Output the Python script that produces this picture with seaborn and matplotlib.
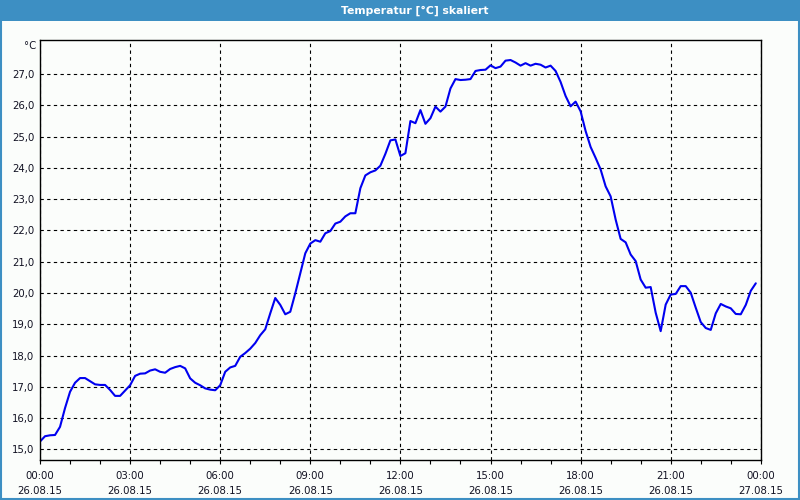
import numpy as np
import pandas as pd
import matplotlib
matplotlib.use("Agg")
import matplotlib.pyplot as plt
import matplotlib.dates as mdates
from matplotlib.patches import Rectangle
from matplotlib.ticker import FuncFormatter
import seaborn as sns

# ---- data (10-minute samples, 26.08.15 00:00 onward) ----
temps = [
    15.25, 15.42, 15.45, 15.46, 15.72, 16.32, 16.84, 17.13, 17.28, 17.28,
    17.18, 17.08, 17.06, 17.06, 16.90, 16.71, 16.71, 16.88, 17.05, 17.35,
    17.42, 17.43, 17.52, 17.56, 17.48, 17.45, 17.57, 17.63, 17.67, 17.59,
    17.27, 17.13, 17.05, 16.95, 16.91, 16.89, 17.05, 17.48, 17.62, 17.67,
    17.96, 18.08, 18.22, 18.40, 18.65, 18.84, 19.35, 19.84, 19.62, 19.32,
    19.40, 19.99, 20.63, 21.27, 21.58, 21.69, 21.64, 21.91, 21.98, 22.22,
    22.28, 22.45, 22.55, 22.55, 23.35, 23.76, 23.86, 23.92, 24.07, 24.45,
    24.88, 24.91, 24.38, 24.47, 25.50, 25.43, 25.85, 25.41, 25.59, 25.96,
    25.80, 25.96, 26.54, 26.84, 26.81, 26.82, 26.84, 27.10, 27.13, 27.14,
    27.28, 27.19, 27.24, 27.43, 27.45, 27.37, 27.27, 27.35, 27.27, 27.33,
    27.30, 27.21, 27.27, 27.10, 26.75, 26.30, 25.97, 26.12, 25.81, 25.18,
    24.67, 24.32, 23.95, 23.41, 23.09, 22.35, 21.73, 21.62, 21.23, 21.02,
    20.43, 20.17, 20.19, 19.37, 18.78, 19.63, 19.95, 19.97, 20.22, 20.22,
    20.01, 19.53, 19.07, 18.88, 18.82, 19.35, 19.65, 19.57, 19.51, 19.33,
    19.32, 19.62, 20.07, 20.31,
]
start_time = "2015-08-26 00:00"
end_time = "2015-08-27 00:00"
y_ticks = [15.0, 16.0, 17.0, 18.0, 19.0, 20.0, 21.0, 22.0, 23.0, 24.0, 25.0, 26.0, 27.0]
x_tick_labels = [
    "00:00\n26.08.15", "03:00\n26.08.15", "06:00\n26.08.15", "09:00\n26.08.15",
    "12:00\n26.08.15", "15:00\n26.08.15", "18:00\n26.08.15", "21:00\n26.08.15",
    "00:00\n27.08.15",
]
title = "Temperatur [°C] skaliert"
unit_label = "°C"

times = pd.date_range(start_time, periods=len(temps), freq="10min")
df = pd.DataFrame({"time": times, "temp": temps})

sns.set_theme(style="white")
plt.rcParams["font.family"] = ["DejaVu Sans"]

bg = "#fbfdfb"
bar_col = "#3d8fc3"
txt_col = "#111122"

fig = plt.figure(figsize=(8, 5), dpi=100, facecolor=bg)
ax = fig.add_axes([0.05, 0.08, 0.901, 0.84])
ax.set_facecolor(bg)

sns.lineplot(data=df, x="time", y="temp", ax=ax, color="#0000f0", linewidth=1.5)

ax.set_xlim(pd.Timestamp(start_time), pd.Timestamp(end_time))
ax.set_ylim(14.66, 28.09)

major = pd.date_range(start_time, end_time, freq="3h")
ax.set_xticks(major)
ax.set_xticklabels(x_tick_labels)
ax.xaxis.set_minor_locator(mdates.HourLocator())
ax.set_yticks(y_ticks)
ax.yaxis.set_major_formatter(FuncFormatter(lambda v, p: f"{v:.1f}".replace(".", ",")))

ax.grid(True, which="major", color="black", linestyle=(0, (3, 3)), linewidth=0.8)
ax.grid(False, which="minor")
ax.set_xlabel("")
ax.set_ylabel("")

for s in ax.spines.values():
    s.set_color("black")
    s.set_linewidth(1.0)
    s.set_visible(True)

ax.tick_params(axis="x", which="both", direction="out", length=3, width=0.8,
               colors="black", bottom=True, pad=5)
ax.tick_params(axis="x", which="major", labelsize=7.3, labelcolor=txt_col)
ax.tick_params(axis="y", which="major", length=0, pad=4, labelsize=7.3,
               labelcolor=txt_col, left=False)
for lbl in ax.get_xticklabels():
    lbl.set_linespacing(1.6)

# unit label above the y tick labels
fig.text(36 / 800, 1 - 46 / 500, unit_label, ha="right", va="center",
         fontsize=7.3, color=txt_col)

# title bar
fig.patches.append(Rectangle((0, 1 - 21 / 500), 1, 21 / 500, transform=fig.transFigure,
                             facecolor=bar_col, edgecolor="none", zorder=0))
fig.text(415 / 800, 1 - 10.5 / 500, title, ha="center", va="center", color="white",
         fontsize=7.8, fontweight="bold")
# outer border
fig.patches.append(Rectangle((0.001, 0.002), 0.998, 0.996, transform=fig.transFigure,
                             facecolor="none", edgecolor=bar_col, linewidth=1.5, zorder=5))

fig.savefig("out.png", dpi=100, facecolor=bg)
